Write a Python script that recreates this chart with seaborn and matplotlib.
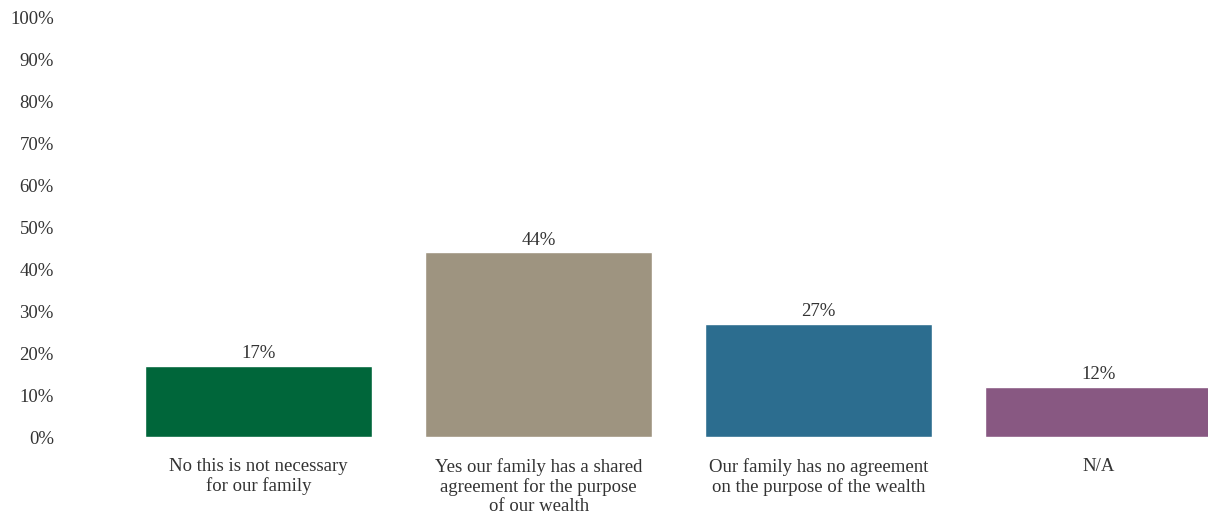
import matplotlib
matplotlib.use("Agg")
import matplotlib.pyplot as plt
import seaborn as sns
import pandas as pd
from matplotlib.ticker import FuncFormatter

categories = [
    "No this is not necessary\nfor our family",
    "Yes our family has a shared\nagreement for the purpose\nof our wealth",
    "Our family has no agreement\non the purpose of the wealth",
    "N/A",
]
values = [17, 44, 27, 12]
colors = ["#00663A", "#9E9480", "#2C6D8F", "#885882"]
yticks = list(range(0, 101, 10))

sns.set_theme(style="white")
plt.rcParams["font.family"] = ["Liberation Serif", "DejaVu Serif"]
text_color = "#333333"

df = pd.DataFrame({"category": categories, "value": values})

fig = plt.figure(figsize=(12.08, 5.15), dpi=100)
ax = fig.add_axes([118.5 / 1208, 78 / 515, 1 - 118.5 / 1208, 420 / 515])

sns.barplot(data=df, x="category", y="value", hue="category", palette=colors,
            legend=False, width=0.81, saturation=1, ax=ax)

ax.set_ylim(0, 100)
ax.set_xlim(-0.5, 3.39)
ax.set_yticks(yticks)
ax.yaxis.set_major_formatter(FuncFormatter(lambda v, _: f"{v:.0f}%"))
ax.set_xlabel("")
ax.set_ylabel("")
for s in ax.spines.values():
    s.set_visible(False)
ax.tick_params(axis="y", length=0, pad=46.5, labelsize=13.5, labelcolor=text_color)
ax.tick_params(axis="x", length=0, pad=15, labelsize=13.5, labelcolor=text_color)
for lbl in ax.get_xticklabels():
    lbl.set_linespacing(1.15)
    lbl.set_verticalalignment("top")

for container in ax.containers:
    ax.bar_label(container, labels=[f"{v:.0f}%" for v in container.datavalues],
                 padding=2.5, fontsize=13.5, color=text_color, clip_on=False)

fig.savefig("out.png", dpi=100)
